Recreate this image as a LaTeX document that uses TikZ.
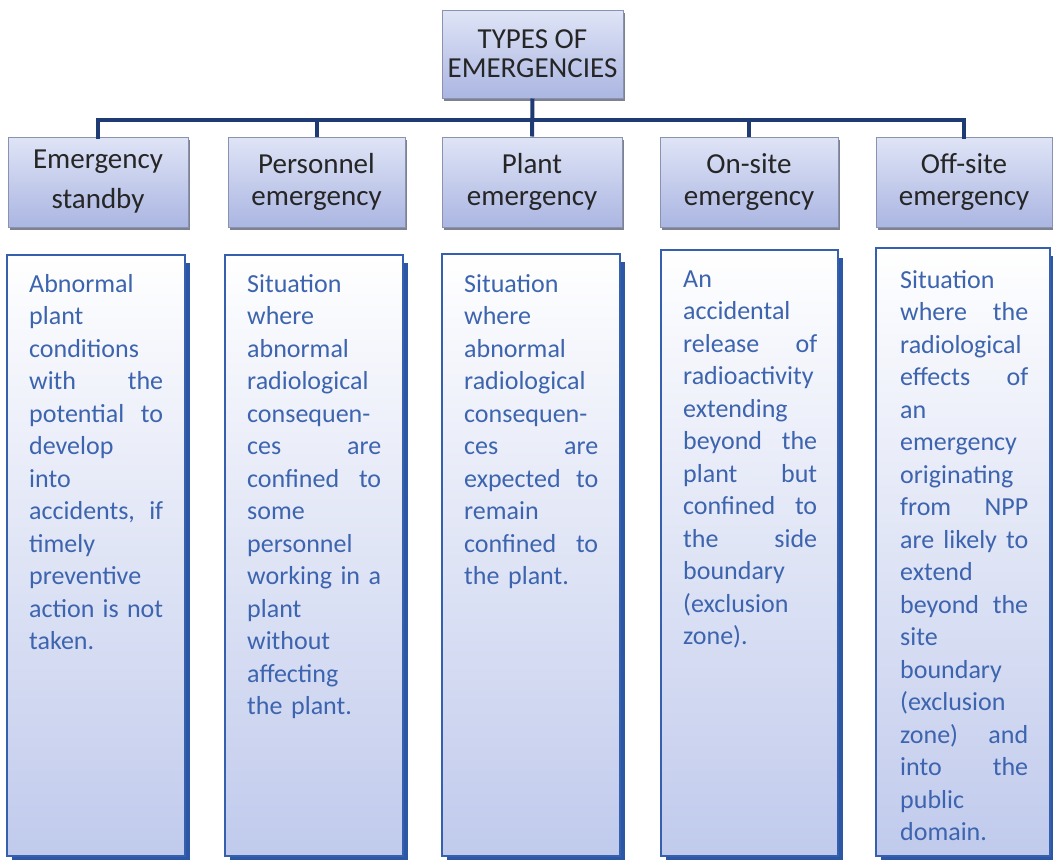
\documentclass[tikz,border=0pt]{standalone}
\usepackage{fontspec}
\setmainfont{Carlito}
\usetikzlibrary{shadows}
\definecolor{titletop}{HTML}{DFE4F6}
\definecolor{titlebot}{HTML}{ABB6E2}
\definecolor{titleline}{HTML}{8A92B2}
\definecolor{titleshadow}{HTML}{5E6272}
\definecolor{conncol}{HTML}{1F3B73}
\definecolor{descline}{HTML}{3660AE}
\definecolor{descshadow}{HTML}{2B57A5}
\definecolor{descbot}{HTML}{C0CAEC}
\definecolor{desctext}{HTML}{3D64AE}
\definecolor{titletext}{HTML}{262626}
\newcommand{\jl}[1]{{\spaceskip=0pt\xspaceskip=0pt\makebox[\hsize][s]{#1}}}
\tikzset{
  titlebox/.style={rectangle, draw=titleline, line width=1pt, top color=titletop, bottom color=titlebot,
    drop shadow={shadow xshift=2pt, shadow yshift=-3pt, fill=titleshadow, opacity=0.8},
    minimum height=90pt, inner sep=0pt, align=center, text=titletext,
    font={\fontsize{29}{32}\selectfont}},
  descbox/.style={rectangle, draw=descline, line width=1.5pt, top color=white, bottom color=descbot,
    drop shadow={shadow xshift=5pt, shadow yshift=-8pt, fill=descshadow, opacity=1},
    inner sep=0pt},
  desctxt/.style={anchor=north west, inner sep=0pt, text width=134pt, align=left, text=desctext,
    font={\fontsize{26}{32.5}\selectfont}},
  conn/.style={draw=conncol, line width=4pt}
}
\begin{document}
\begin{tikzpicture}[x=1pt,y=-1pt]
\useasboundingbox (0,0) rectangle (1053,860);
\fill[white] (0,0) rectangle (1053,860);

% top box
\node[titlebox, minimum width=181pt, minimum height=88pt, font={\fontsize{29}{29}\selectfont}] (top) at (532.5,54) {TYPES OF\\EMERGENCIES};

% title boxes
\node[titlebox, minimum width=180pt] (t1) at (98,182) {Emergency\\[8pt]standby};
\node[titlebox, minimum width=177pt] (t2) at (316.5,182) {Personnel\\emergency};
\node[titlebox, minimum width=180pt] (t3) at (532,182) {Plant\\emergency};
\node[titlebox, minimum width=178pt] (t4) at (749,182) {On-site\\emergency};
\node[titlebox, minimum width=176pt] (t5) at (964,182) {Off-site\\emergency};

% connectors
\coordinate (bar) at (533,120);
\draw[conn] (top.south) -- (t3.north);
\draw[conn, line cap=rect] (t1.north) -- (t1.north |- bar) -- (t5.north |- bar) -- (t5.north);
\draw[conn] (t2.north |- bar) -- (t2.north);
\draw[conn] (t4.north |- bar) -- (t4.north);

% description boxes
\node[descbox, minimum width=178pt, minimum height=601pt] (d1) at (96,555.5) {};
\node[descbox, minimum width=178pt, minimum height=601pt] (d2) at (314,555.5) {};
\node[descbox, minimum width=178pt, minimum height=602pt] (d3) at (531,555) {};
\node[descbox, minimum width=177pt, minimum height=606pt] (d4) at (749.5,553) {};
\node[descbox, minimum width=174pt, minimum height=608pt] (d5) at (963,552) {};

\node[desctxt] (d1t) at (29,269.25) {\strut Abnormal\\plant\\conditions\\\jl{with the}\\\jl{potential to}\\develop\\into\\\jl{accidents, if}\\timely\\preventive\\\jl{action is not}\\taken.};

\node[desctxt] (d2t) at (247,269.25) {\strut Situation\\where\\abnormal\\radiological\\consequen-\\\jl{ces are}\\\jl{confined to}\\some\\personnel\\\jl{working in a}\\plant\\without\\affecting\\the plant.};

\node[desctxt] (d3t) at (464,269.25) {\strut Situation\\where\\abnormal\\radiological\\consequen-\\\jl{ces are}\\\jl{expected to}\\remain\\\jl{confined to}\\the plant.};

\node[desctxt] (d4t) at (683,264.25) {\strut An\\accidental\\\jl{release of}\\radioactivity\\extending\\\jl{beyond the}\\\jl{plant but}\\\jl{confined to}\\\jl{the side}\\boundary\\(exclusion\\zone).};

\node[desctxt, text width=128pt] (d5t) at (900,265.25) {\strut Situation\\\jl{where the}\\radiological\\\jl{effects of}\\an\\emergency\\originating\\\jl{from NPP}\\\jl{are likely to}\\extend\\\jl{beyond the}\\site\\boundary\\(exclusion\\\jl{zone) and}\\\jl{into the}\\public\\domain.};
\end{tikzpicture}
\end{document}
